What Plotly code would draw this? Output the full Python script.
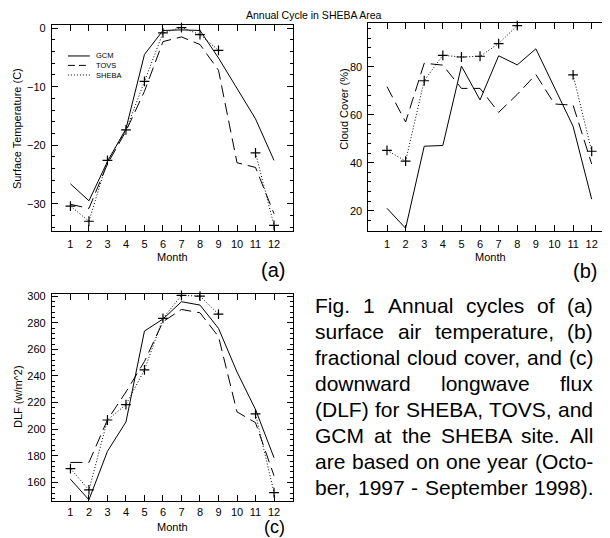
import plotly.graph_objects as go

# ---------------- data ----------------
months = [1, 2, 3, 4, 5, 6, 7, 8, 9, 10, 11, 12]
month_labels = [str(m) for m in months]

temp_gcm = [-26.6, -29.5, -22.8, -17.2, -4.5, -0.4, -0.3, -0.4, -5.1, -10.4, -15.5, -22.6]
temp_tovs = [-30.1, -30.8, -23.2, -17.6, -10.8, -2.3, -1.5, -2.8, -7.2, -23.0, -23.8, -31.7]
temp_sheba = [-30.4, -33.0, -22.6, -17.4, -9.1, -0.8, 0.1, -1.1, -3.8, None, -21.3, -33.7]

cloud_gcm = [21.0, 12.7, 46.9, 47.2, 80.3, 66.2, 84.6, 80.8, 87.5, 71.5, 55.2, 24.8]
cloud_tovs = [71.7, 57.0, 81.5, 80.7, 71.0, 71.0, 61.0, 68.5, 76.8, 64.5, 64.0, 39.5]
cloud_sheba = [45.2, 40.7, 74.2, 84.8, 84.1, 84.4, 89.7, 97.2, None, None, 76.6, 44.8]

dlf_gcm = [162.4, 146.9, 183.4, 205.4, 273.8, 282.8, 295.8, 293.3, 275.8, 243.0, 214.8, 178.5]
dlf_tovs = [175.0, 175.0, 207.0, 228.0, 250.9, 280.8, 290.0, 287.5, 269.6, 213.0, 204.9, 165.0]
dlf_sheba = [170.4, 154.3, 206.9, 218.5, 244.6, 283.3, 300.6, 300.0, 286.5, None, 211.5, 152.3]

series_names = ["GCM", "TOVS", "SHEBA"]
caption_lines = [
    "Fig. 1 Annual cycles of (a)",
    "surface air temperature, (b)",
    "fractional cloud cover, and (c)",
    "downward longwave flux",
    "(DLF) for SHEBA, TOVS, and",
    "GCM at the SHEBA site. All",
    "are based on one year (Octo-",
    "ber, 1997 - September 1998).",
]

# ---------------- layout helpers ----------------
# the page body has an 8px margin, so the figure is placed at (8, 8)
OFF = 8
FW, FH = 610 - OFF, 538 - OFF
FONT = "Liberation Sans"


def px(x):
    return (x - OFF) / FW


def py(y):
    return 1 - (y - OFF) / FH


fig = go.Figure()

panels = [
    ("x", "y", temp_gcm, temp_tovs, temp_sheba),
    ("x2", "y2", cloud_gcm, cloud_tovs, cloud_sheba),
    ("x3", "y3", dlf_gcm, dlf_tovs, dlf_sheba),
]
for xa, ya, g, t, s in panels:
    fig.add_trace(go.Scatter(x=months, y=g, xaxis=xa, yaxis=ya, mode="lines",
                             line=dict(color="black", width=1), name=series_names[0],
                             showlegend=False))
    fig.add_trace(go.Scatter(x=months, y=t, xaxis=xa, yaxis=ya, mode="lines",
                             line=dict(color="black", width=1, dash="12px,6px"),
                             name=series_names[1], showlegend=False))
    fig.add_trace(go.Scatter(x=months, y=s, xaxis=xa, yaxis=ya, mode="lines+markers",
                             line=dict(color="black", width=1, dash="1px,2px"),
                             marker=dict(symbol="cross-thin", size=7, color="black",
                                         line=dict(color="black", width=1.2)),
                             connectgaps=False, cliponaxis=False,
                             name=series_names[2], showlegend=False))

tickfont = dict(family=FONT, size=11, color="black")


def xaxis(domain, rng, anchor, standoff=3):
    return dict(domain=domain, range=rng, anchor=anchor, tickvals=months,
                ticktext=month_labels, ticks="inside", ticklen=6, tickwidth=1,
                tickcolor="black", showline=True, linecolor="black", linewidth=1,
                mirror="allticks", showgrid=False, zeroline=False, tickfont=tickfont,
                ticklabelstandoff=standoff)


def yaxis(domain, rng, anchor, dtick, minor, mirror="allticks"):
    return dict(domain=domain, range=rng, anchor=anchor, dtick=dtick, tick0=0,
                ticks="inside", ticklen=6, tickwidth=1, tickcolor="black",
                minor=dict(dtick=minor, tick0=0, ticks="inside", ticklen=3,
                           tickcolor="black", tickwidth=1),
                showline=True, linecolor="black", linewidth=1, mirror=mirror,
                showgrid=False, zeroline=False, tickfont=tickfont,
                ticklabelstandoff=3)


xa_dom = [px(52), px(293)]
fig.update_layout(
    width=FW, height=FH, margin=dict(l=0, r=0, t=0, b=0),
    paper_bgcolor="white", plot_bgcolor="white", showlegend=False,
    xaxis=xaxis(xa_dom, [0, 13], "y"),
    yaxis=yaxis([py(228.3), py(21)], [-34.6, 0.55], "x", 10, 2),
    xaxis2=xaxis([px(369), 1.0], [0, 12.93], "y2"),
    yaxis2=yaxis([py(228.3), py(19)], [11.7, 98.3], "x2", 20, 4),
    xaxis3=xaxis(xa_dom, [0, 13], "y3", standoff=1),
    yaxis3=yaxis([py(501), py(292.3)], [145.8, 301.5], "x3", 20, 4),
)

ann = []


def add_text(x, y, text, size, angle=0, xanchor="center", family=FONT):
    ann.append(dict(x=px(x), y=py(y), xref="paper", yref="paper", text=text,
                    showarrow=False, xanchor=xanchor, yanchor="middle",
                    textangle=angle, borderpad=0,
                    font=dict(family=family, size=size, color="black")))


# titles and axis titles
add_text(314.5, 11.5, "Annual Cycle in SHEBA Area", 10.5)
add_text(17, 125, "Surface Temperature (C)", 11, angle=-90)
add_text(345, 106, "Cloud Cover (%)", 11, angle=-90)
add_text(18, 395, "DLF (w/m^2)", 11, angle=-90)
add_text(173, 255, "Month", 11)
add_text(491, 255, "Month", 11)
add_text(173, 526.5, "Month", 11)
add_text(273.5, 268, "(a)", 20)
add_text(586, 269, "(b)", 20)
add_text(275, 527, "(c)", 18)

# legend in panel (a)
legend_y = [52.3, 61.8, 71.5]
legend_dash = ["solid", "7px,4px", "1px,2px"]
shapes = []
for name, ly, dsh in zip(series_names, legend_y, legend_dash):
    shapes.append(dict(type="line", xref="paper", yref="paper", x0=px(68), x1=px(90),
                       y0=py(ly), y1=py(ly), line=dict(color="black", width=1, dash=dsh)))
    add_text(95, ly, name, 7.5, xanchor="left")

# justified caption
W = {' ': 278, '(': 333, ')': 333, ',': 278, '-': 333, '.': 278, 'A': 667, 'B': 667,
     'C': 722, 'D': 722, 'E': 667, 'F': 611, 'G': 778, 'H': 722, 'L': 556, 'M': 833,
     'O': 778, 'S': 667, 'T': 611, 'V': 667, 'a': 556, 'b': 556, 'c': 500, 'd': 556,
     'e': 556, 'f': 278, 'g': 556, 'h': 556, 'i': 222, 'l': 222, 'm': 833, 'n': 556,
     'o': 556, 'p': 556, 'r': 333, 's': 500, 't': 278, 'u': 556, 'v': 500, 'w': 722,
     'x': 500, 'y': 500, 'k': 500}
CAP_FS = 21
CAP_L, CAP_R = 315, 593
CAP_Y0, CAP_DY = 303.5, 26.2


def tw(s):
    return sum(W.get(c, 556) for c in s) * CAP_FS / 1000


for i, line in enumerate(caption_lines):
    words = line.split()
    widths = [tw(w) for w in words]
    gap = (CAP_R - CAP_L - sum(widths)) / (len(words) - 1)
    x = CAP_L
    for w, wd in zip(words, widths):
        add_text(x, CAP_Y0 + i * CAP_DY, w, CAP_FS, xanchor="left")
        x += wd + gap

fig.update_layout(annotations=ann, shapes=shapes)
fig.write_html("out.html")
